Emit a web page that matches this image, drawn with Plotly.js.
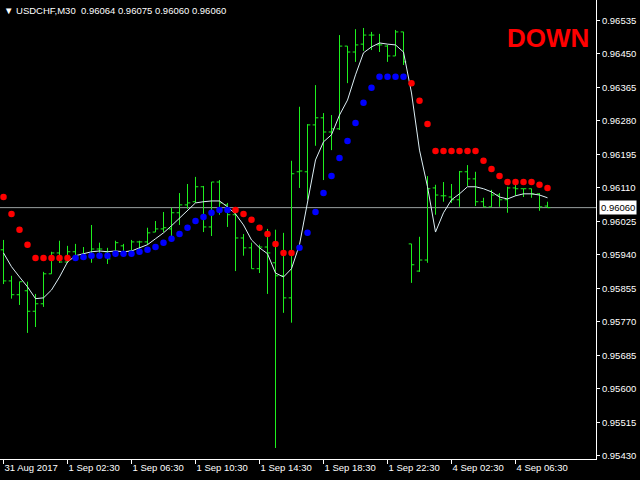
<!DOCTYPE html>
<html><head><meta charset="utf-8">
<script src="https://cdn.plot.ly/plotly-3.0.1.min.js"></script>
<style>html,body{margin:0;padding:0;background:#000;}#chart{width:640px;height:480px;}</style>
</head><body><div id="chart"></div>
<script>
const symbol = "USDCHF,M30";
const signalText = "DOWN";

const timeLabels = ["31 Aug 2017","1 Sep 02:30","1 Sep 06:30","1 Sep 10:30","1 Sep 14:30","1 Sep 18:30","1 Sep 22:30","4 Sep 02:30","4 Sep 06:30"];
const timeLabelBars = [0, 8, 16, 24, 32, 40, 48, 56, 64];

const priceTicks = [0.95430,0.95515,0.95600,0.95685,0.95770,0.95855,0.95940,0.96025,0.96110,0.96195,0.96280,0.96365,0.96450,0.96535];

const openP = [0.95953,0.95874,0.95839,0.95849,0.95797,0.95816,0.95892,0.95945,0.95922,0.95948,
0.95932,0.95935,0.95955,0.95948,0.95945,0.95963,0.95950,0.95973,0.95973,0.95998,
0.96006,0.96006,0.96047,0.96067,0.96075,0.96113,0.96011,0.96125,0.96067,0.96042,
0.95983,0.95958,0.95905,0.95960,0.95920,0.95887,0.95831,0.96151,0.96151,0.96270,
0.96288,0.96252,0.96260,0.96470,0.96455,0.96475,0.96498,0.96473,0.96470,0.96445,
0.96506,0.95968,0.95899,0.95927,0.96110,0.96090,0.96087,0.96080,0.96151,0.96133,
0.96075,0.96062,0.96092,0.96080,0.96110,0.96108,0.96108,0.96095,0.96064];

const highP = [0.95978,0.95887,0.95872,0.95872,0.95841,0.95897,0.95948,0.95976,0.95963,0.95968,
0.95960,0.96016,0.95971,0.95958,0.95976,0.95968,0.95978,0.95976,0.96009,0.96026,
0.96049,0.96060,0.96097,0.96120,0.96138,0.96115,0.96125,0.96130,0.96072,0.96060,
0.95993,0.95971,0.95966,0.96006,0.96004,0.95996,0.96179,0.96316,0.96272,0.96371,
0.96300,0.96295,0.96498,0.96470,0.96513,0.96516,0.96506,0.96501,0.96473,0.96511,
0.96506,0.95968,0.95986,0.96140,0.96118,0.96125,0.96120,0.96153,0.96168,0.96151,
0.96085,0.96105,0.96097,0.96113,0.96120,0.96108,0.96108,0.96097,0.96075];

const lowP = [0.95866,0.95829,0.95813,0.95742,0.95757,0.95808,0.95892,0.95920,0.95920,0.95930,
0.95927,0.95920,0.95930,0.95917,0.95935,0.95938,0.95938,0.95953,0.95966,0.95998,
0.95998,0.95986,0.96016,0.96057,0.96072,0.95998,0.95988,0.96042,0.96011,0.95899,
0.95938,0.95905,0.95894,0.95841,0.95450,0.95793,0.95768,0.96110,0.96080,0.96217,
0.96130,0.96206,0.96257,0.96376,0.96430,0.96458,0.96460,0.96455,0.96430,0.96445,
0.96422,0.95869,0.95897,0.95920,0.96042,0.96075,0.96072,0.96062,0.96115,0.96064,
0.96062,0.96062,0.96062,0.96047,0.96090,0.96087,0.96085,0.96052,0.96060];

const closeP = [0.95874,0.95839,0.95872,0.95797,0.95816,0.95892,0.95945,0.95922,0.95948,0.95935,
0.95935,0.95955,0.95955,0.95930,0.95971,0.95948,0.95973,0.95973,0.95996,0.96006,
0.96009,0.96047,0.96067,0.96072,0.96113,0.96011,0.96125,0.96072,0.96042,0.95983,
0.95958,0.95905,0.95960,0.95945,0.95887,0.95831,0.96146,0.96153,0.96270,0.96288,
0.96252,0.96260,0.96470,0.96455,0.96473,0.96498,0.96498,0.96473,0.96445,0.96506,
0.96430,0.95915,0.95927,0.96108,0.96092,0.96090,0.96080,0.96151,0.96133,0.96075,
0.96062,0.96092,0.96080,0.96110,0.96108,0.96108,0.96095,0.96062,0.96060];

const smoothLine = [0.95945,0.95910,0.95884,0.95859,0.95829,0.95831,0.95851,0.95884,0.95922,0.95938,
0.95943,0.95948,0.95950,0.95948,0.95950,0.95948,0.95950,0.95958,0.95966,0.95981,
0.95996,0.96014,0.96034,0.96054,0.96072,0.96075,0.96077,0.96077,0.96062,0.96044,
0.96016,0.95978,0.95958,0.95943,0.95894,0.95884,0.95905,0.95966,0.96075,0.96181,
0.96227,0.96245,0.96295,0.96333,0.96397,0.96453,0.96468,0.96478,0.96475,0.96473,
0.96455,0.96351,0.96206,0.96113,0.95998,0.96047,0.96080,0.96095,0.96113,0.96113,
0.96108,0.96100,0.96087,0.96082,0.96090,0.96095,0.96095,0.96092,0.96085];

const sarValues = [0.96087,0.96044,0.96004,0.95966,0.95932,0.95932,0.95932,0.95932,0.95932,0.95932,
0.95935,0.95938,0.95938,0.95938,0.95943,0.95943,0.95943,0.95948,0.95953,0.95960,
0.95971,0.95981,0.95993,0.96009,0.96026,0.96036,0.96047,0.96054,0.96054,0.96054,
0.96044,0.96029,0.96009,0.95993,0.95968,0.95945,0.95945,0.95958,0.95996,0.96049,
0.96097,0.96140,0.96186,0.96229,0.96275,0.96326,0.96364,0.96392,0.96392,0.96392,
0.96392,0.96376,0.96331,0.96272,0.96204,0.96204,0.96204,0.96204,0.96204,0.96204,
0.96179,0.96158,0.96140,0.96125,0.96125,0.96125,0.96125,0.96118,0.96110];

// +1 = uptrend (blue dot below price), -1 = downtrend (red dot above price)
const sarTrend = [-1,-1,-1,-1,-1,-1,-1,-1,-1,1,
1,1,1,1,1,1,1,1,1,1,
1,1,1,1,1,1,1,1,1,-1,
-1,-1,-1,-1,-1,-1,-1,1,1,1,
1,1,1,1,1,1,1,1,1,1,
1,-1,-1,-1,-1,-1,-1,-1,-1,-1,
-1,-1,-1,-1,-1,-1,-1,-1,-1];

const idx = closeP.map((_, i) => i);
const sarUp = sarValues.map((v, i) => sarTrend[i] > 0 ? v : null);
const sarDown = sarValues.map((v, i) => sarTrend[i] < 0 ? v : null);
const last = closeP.length - 1;
const fmt = v => v.toFixed(5);

const FONT = '"Liberation Sans", Arial, sans-serif';
const GREEN = '#1EF01E';

const traces = [
  {type: 'ohlc', x: idx, open: openP, high: highP, low: lowP, close: closeP,
   increasing: {line: {color: GREEN, width: 1}},
   decreasing: {line: {color: GREEN, width: 1}},
   tickwidth: 0.35, hoverinfo: 'skip'},
  {type: 'scatter', mode: 'lines', x: idx, y: smoothLine,
   line: {color: '#DDEFF5', width: 1}, hoverinfo: 'skip'},
  {type: 'scatter', mode: 'markers', x: idx, y: sarDown,
   marker: {color: '#FF0000', size: 6.5}, hoverinfo: 'skip'},
  {type: 'scatter', mode: 'markers', x: idx, y: sarUp,
   marker: {color: '#0000FF', size: 6.5}, hoverinfo: 'skip'}
];

const layout = {
  width: 640, height: 480,
  paper_bgcolor: '#000', plot_bgcolor: '#000',
  margin: {l: 0, r: 44, t: 0, b: 21, pad: 0},
  showlegend: false, hovermode: false,
  font: {family: FONT, color: '#fff', size: 9},
  xaxis: {
    range: [-0.4375, 74.0625], rangeslider: {visible: false},
    showgrid: false, zeroline: false,
    showline: true, linecolor: '#fff', linewidth: 1,
    ticks: 'outside', ticklen: 4, tickcolor: '#fff', tickwidth: 1,
    tickmode: 'array', tickvals: timeLabelBars, ticktext: timeLabels,
    ticklabelposition: 'outside right',
    tickfont: {family: FONT, color: '#fff', size: 9.5}
  },
  yaxis: {
    side: 'right', range: [0.95422, 0.96587],
    showgrid: false, zeroline: false,
    showline: true, linecolor: '#fff', linewidth: 1,
    ticks: 'outside', ticklen: 3, tickcolor: '#fff', tickwidth: 1,
    tickmode: 'array', tickvals: priceTicks, ticktext: priceTicks.map(fmt),
    tickfont: {family: FONT, color: '#fff', size: 9.5}
  },
  shapes: [
    {type: 'line', xref: 'paper', x0: 0, x1: 1, yref: 'y', y0: closeP[last], y1: closeP[last],
     line: {color: '#9AA0A0', width: 1}, layer: 'below'}
  ],
  annotations: [
    {xref: 'paper', yref: 'paper', x: 0, y: 1, xanchor: 'left', yanchor: 'top', xshift: 2, yshift: -3,
     showarrow: false, align: 'left',
     text: '▼ ' + symbol + '\u00a0\u00a0' + [openP[last], highP[last], lowP[last], closeP[last]].map(fmt).join(' '),
     font: {family: FONT, color: '#fff', size: 9.5}},
    {xref: 'paper', yref: 'paper', x: 505 / 596, y: 1 - 37.5 / 459, xanchor: 'left', yanchor: 'middle',
     showarrow: false, text: '<b>' + signalText + '</b>',
     font: {family: FONT, color: '#FF0000', size: 26}},
    {xref: 'paper', yref: 'y', x: 1, y: closeP[last], xanchor: 'left', yanchor: 'middle', xshift: 3,
     showarrow: false, text: fmt(closeP[last]), bgcolor: '#fff', borderpad: 1,
     font: {family: FONT, color: '#000', size: 9.5}}
  ]
};

Plotly.newPlot('chart', traces, layout, {displayModeBar: false, staticPlot: true});
</script>
</body></html>
